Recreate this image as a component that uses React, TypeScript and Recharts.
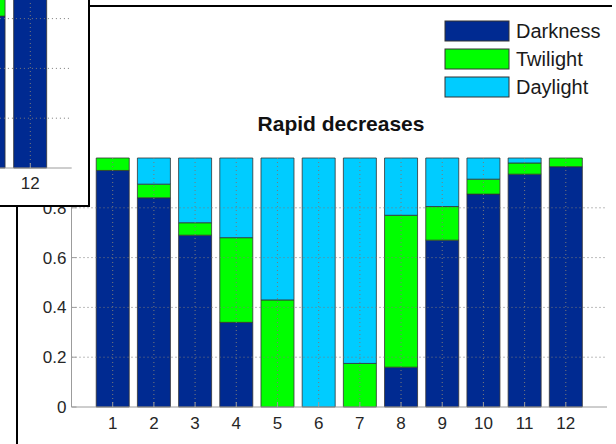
import { Bar, BarChart, ReferenceLine, XAxis, YAxis } from 'recharts';

// Main chart: share of each light phase per bin
const categories = ['1', '2', '3', '4', '5', '6', '7', '8', '9', '10', '11', '12'];
const darkness = [0.95, 0.84, 0.69, 0.34, 0, 0, 0, 0.16, 0.67, 0.855, 0.935, 0.965];
const twilight = [0.05, 0.055, 0.05, 0.34, 0.43, 0, 0.175, 0.61, 0.135, 0.06, 0.045, 0.035];
const daylight = [0, 0.105, 0.26, 0.32, 0.57, 1, 0.825, 0.23, 0.195, 0.085, 0.02, 0];

const yTicks = [0, 0.2, 0.4, 0.6, 0.8, 1];
const gridLevels = [0.2, 0.4, 0.6, 0.8];

// Inset (neighbouring panel, only its last two bars show)
const insetCategories = ['11', '12'];
const insetTicks = ['12'];
const insetDarkness = [0.61, 0.92];
const insetTwilight = [0.12, 0.05];
const insetDaylight = [0.27, 0.03];

const SERIES = [
  { key: 'darkness', name: 'Darkness', color: '#002a91' },
  { key: 'twilight', name: 'Twilight', color: '#00ff00' },
  { key: 'daylight', name: 'Daylight', color: '#00ccff' },
];

const FONT = '"Liberation Sans", Arial, sans-serif';
const AXIS_GREY = '#9c9c9c';
const GRID = '#7a7a7a';
const TEXT = '#262626';

const buildRows = (cats: string[], d: number[], t: number[], l: number[]) =>
  cats.map((c, i) => ({ bin: c, darkness: d[i], twilight: t[i], daylight: l[i] }));

const mainRows = buildRows(categories, darkness, twilight, daylight);
const insetRows = buildRows(insetCategories, insetDarkness, insetTwilight, insetDaylight);

const tickStyle = { fill: TEXT, fontSize: 17, fontFamily: FONT };

const renderBars = (xAxisId: string) =>
  SERIES.map(s => (
    <Bar
      key={s.key}
      xAxisId={xAxisId}
      dataKey={s.key}
      name={s.name}
      stackId="phase"
      fill={s.color}
      stroke="#333"
      strokeWidth={0.8}
      isAnimationActive={false}
    />
  ));

// MATLAB style dotted grid, drawn over the bars
const renderGrid = (cats: string[], xAxisId: string) => (
  <>
    {gridLevels.map(v => (
      <ReferenceLine key={'h' + v} xAxisId={xAxisId} y={v} stroke={GRID} strokeDasharray="1 3" />
    ))}
    {cats.map(c => (
      <ReferenceLine key={'v' + c} xAxisId={xAxisId} x={c} stroke={GRID} strokeDasharray="1 3" />
    ))}
  </>
);

const MainChart = () => (
  <BarChart
    width={616}
    height={444}
    data={mainRows}
    margin={{ top: 158, right: 9, bottom: 7, left: 21.5 }}
    barCategoryGap="10%"
  >
    <XAxis
      xAxisId="bottom"
      dataKey="bin"
      height={30}
      padding={{ left: 20.6, right: 20.6 }}
      tick={tickStyle}
      tickSize={-5}
      tickMargin={15}
      axisLine={{ stroke: AXIS_GREY }}
      tickLine={{ stroke: AXIS_GREY }}
    />
    <XAxis
      xAxisId="top"
      dataKey="bin"
      orientation="top"
      height={0}
      padding={{ left: 20.6, right: 20.6 }}
      tickFormatter={() => ''}
      tickSize={-5}
      axisLine={{ stroke: AXIS_GREY }}
      tickLine={{ stroke: AXIS_GREY }}
    />
    <YAxis
      type="number"
      domain={[0, 1]}
      ticks={yTicks}
      width={50}
      tick={tickStyle}
      tickSize={-5}
      tickMargin={10}
      tickFormatter={(v: number) => String(v)}
      axisLine={{ stroke: AXIS_GREY }}
      tickLine={{ stroke: AXIS_GREY }}
    />
    {renderBars('bottom')}
    {renderGrid(categories, 'bottom')}
  </BarChart>
);

const InsetChart = () => (
  <BarChart
    width={112}
    height={298}
    data={insetRows}
    margin={{ top: 9, right: 0.3, bottom: 10, left: 7.9 }}
    barCategoryGap="10%"
  >
    <XAxis
      xAxisId="bottom"
      dataKey="bin"
      height={30}
      ticks={insetTicks}
      padding={{ left: 0, right: 20.6 }}
      tick={tickStyle}
      tickSize={-5}
      tickMargin={14}
      axisLine={{ stroke: AXIS_GREY }}
      tickLine={{ stroke: AXIS_GREY }}
    />
    <YAxis hide type="number" domain={[0, 1]} />
    {renderBars('bottom')}
    {renderGrid(insetCategories, 'bottom')}
  </BarChart>
);

export default function App() {
  return (
    <div
      style={{
        position: 'absolute',
        left: 0,
        top: 0,
        width: 616,
        height: 444,
        background: '#fff',
        overflow: 'hidden',
        fontFamily: FONT,
      }}
    >
      <div style={{ position: 'absolute', left: 0, top: 0 }}>
        <MainChart />
      </div>

      <svg
        width={616}
        height={444}
        style={{ position: 'absolute', left: 0, top: 0, pointerEvents: 'none' }}
      >
        <line x1={17} y1={6} x2={612} y2={6} stroke="#000" strokeWidth={2} />
        <line x1={17} y1={6} x2={17} y2={444} stroke="#000" strokeWidth={2} />
        <text
          x={341}
          y={131}
          textAnchor="middle"
          fontFamily={FONT}
          fontSize={21}
          fontWeight="bold"
          fill="#111"
        >
          Rapid decreases
        </text>
        {SERIES.map((s, i) => (
          <g key={s.key}>
            <rect x={445} y={21 + i * 28} width={64} height={20} fill={s.color} stroke="#333" strokeWidth={1} />
            <text x={516} y={37.5 + i * 28} fontFamily={FONT} fontSize={20} fill="#1a1a1a">
              {s.name}
            </text>
          </g>
        ))}
      </svg>

      <div
        style={{
          position: 'absolute',
          left: 0,
          top: 0,
          width: 88,
          height: 205,
          borderRight: '2px solid #000',
          borderBottom: '2px solid #000',
          background: '#fff',
          overflow: 'hidden',
        }}
      >
        <div style={{ position: 'absolute', left: -40, top: -90 }}>
          <InsetChart />
        </div>
      </div>
    </div>
  );
}
